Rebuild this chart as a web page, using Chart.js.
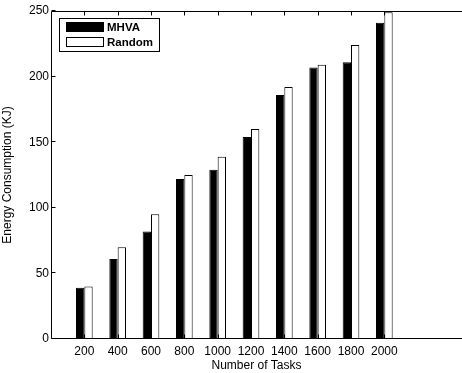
<!DOCTYPE html>
<html><head><meta charset="utf-8">
<script src="https://cdn.jsdelivr.net/npm/chart.js@4"></script>
<style>html,body{margin:0;padding:0;background:#fff;overflow:hidden;width:462px;height:373px}canvas{display:block}</style>
</head><body>
<canvas id="c" width="462" height="373"></canvas>
<script>
const tasks = [200, 400, 600, 800, 1000, 1200, 1400, 1600, 1800, 2000];
const mhva = [39, 61, 82, 122, 129, 154, 186, 207, 211, 241];
const random = [40, 70, 95, 125, 139, 160, 192, 209, 224, 249];
const yTicks = [0, 50, 100, 150, 200, 250];
const seriesNames = ['MHVA', 'Random'];
const xTitle = 'Number of Tasks';
const yTitle = 'Energy Consumption (KJ)';

const FONT = '"Liberation Sans", Arial, Helvetica, sans-serif';

const frame = {
  id: 'frame',
  afterDatasetsDraw(chart) {
    const {ctx, chartArea: a, scales: {x, y}} = chart;
    ctx.save();
    ctx.strokeStyle = '#000';
    ctx.lineWidth = 1;
    const L = 4;
    const l = Math.round(a.left) + 0.5, r = a.right + 2;
    const t = Math.round(a.top) + 0.5, b = Math.round(a.bottom) - 0.5;
    ctx.beginPath();
    yTicks.forEach(v => {
      const py = Math.round(y.getPixelForValue(v)) - 0.5;
      ctx.moveTo(l, py); ctx.lineTo(l + L, py);
    });
    tasks.forEach(v => {
      const px = Math.round(x.getPixelForValue(v)) + 0.5;
      ctx.moveTo(px, b); ctx.lineTo(px, b - L);
      ctx.moveTo(px, t); ctx.lineTo(px, t + L);
    });
    // frame (right edge lies beyond the visible area)
    ctx.moveTo(r, t); ctx.lineTo(l, t); ctx.lineTo(l, b); ctx.lineTo(r, b);
    ctx.stroke();

    // legend
    const lx = 59, ly = 18, lw = 100, lh = 33;
    ctx.fillStyle = '#fff';
    ctx.fillRect(lx, ly, lw, lh);
    ctx.strokeRect(lx + 0.5, ly + 0.5, lw, lh);
    ctx.font = 'bold 11.5px ' + FONT;
    ctx.textBaseline = 'middle';
    chart.data.datasets.forEach((ds, i) => {
      const sy = 22 + i * 15;
      ctx.fillStyle = ds.backgroundColor;
      ctx.fillRect(66, sy, 38, 10);
      ctx.strokeStyle = '#000';
      ctx.strokeRect(66.5, sy + 0.5, 37, 9);
      ctx.fillStyle = '#000';
      ctx.fillText(ds.label, 107, sy + 5.5);
    });
    ctx.restore();
  }
};

new Chart(document.getElementById('c'), {
  type: 'bar',
  data: {
    datasets: [
      {label: seriesNames[0], data: tasks.map((t, i) => ({x: t, y: mhva[i]})),
       backgroundColor: '#000', borderColor: '#000', borderWidth: 1,
       categoryPercentage: 0.5, barPercentage: 1.0},
      {label: seriesNames[1], data: tasks.map((t, i) => ({x: t, y: random[i]})),
       backgroundColor: '#fff', borderColor: '#000', borderWidth: 1,
       categoryPercentage: 0.5, barPercentage: 1.0}
    ]
  },
  options: {
    responsive: false,
    animation: false,
    devicePixelRatio: 1,
    layout: {padding: {top: 11, right: 0, left: 0, bottom: 0}},
    plugins: {legend: {display: false}, tooltip: {enabled: false}},
    scales: {
      x: {
        type: 'linear', min: 0, max: 2466, offset: false,
        afterBuildTicks: s => { s.ticks = tasks.map(v => ({value: v})); },
        afterFit: s => { s.height = 34; },
        grid: {display: false, drawTicks: false},
        border: {display: false},
        ticks: {color: '#000', padding: 5, font: {family: FONT, size: 12}, callback: v => String(v), maxRotation: 0, autoSkip: false},
        title: {display: true, text: xTitle, color: '#000', font: {family: FONT, size: 12}, padding: {top: 0, bottom: 0}}
      },
      y: {
        min: 0, max: 250,
        afterBuildTicks: s => { s.ticks = yTicks.map(v => ({value: v})); },
        afterFit: s => { s.width = 51; },
        grid: {display: false, drawTicks: false},
        border: {display: false},
        ticks: {color: '#000', padding: 2, font: {family: FONT, size: 12}},
        title: {display: true, text: yTitle, color: '#000', font: {family: FONT, size: 12}, padding: {top: 0, bottom: 5}}
      }
    }
  },
  plugins: [frame]
});
</script>
</body></html>
